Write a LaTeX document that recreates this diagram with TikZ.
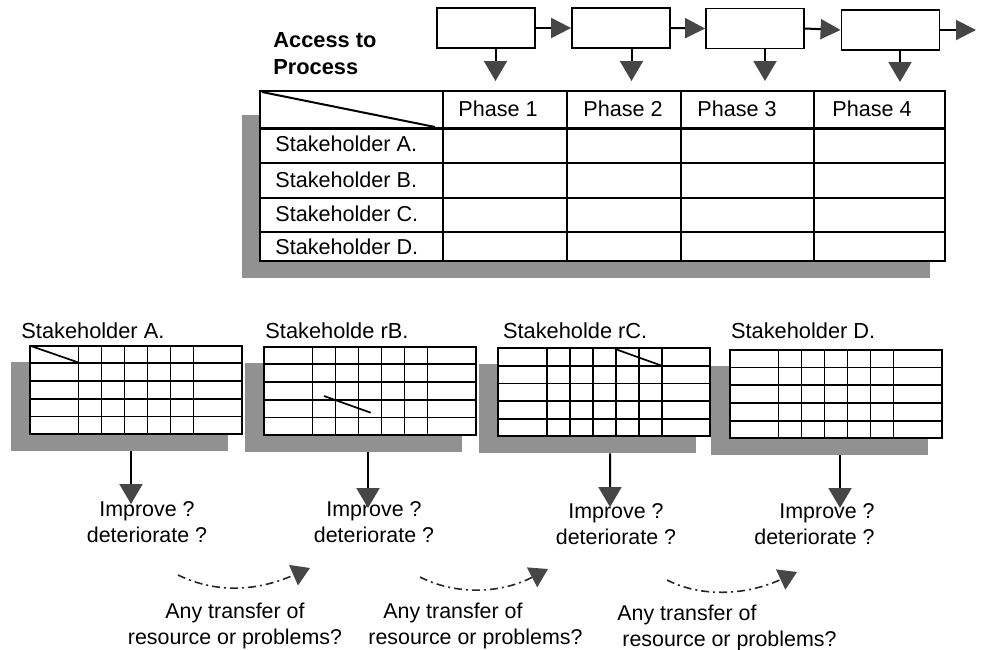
\documentclass[tikz,border=0pt]{standalone}
\usepackage{fontspec}
\setmainfont{Liberation Sans}
\usetikzlibrary{arrows.meta}

\definecolor{tipgray}{RGB}{70,70,70}
\definecolor{shadowgray}{RGB}{145,145,145}

\tikzset{
  procbox/.style={draw, line width=0.9pt, minimum width=49pt, minimum height=20pt, inner sep=0pt},
  flow/.style={line width=1pt, -{Triangle[length=10pt,width=10pt,color=tipgray]}},
  drop/.style={line width=1pt, -{Triangle[length=10pt,width=11.5pt,color=tipgray]}},
  transfer/.style={line width=0.8pt, draw=black!85, dash pattern=on 4pt off 2pt on 1pt off 2pt,
    -{Triangle[length=9pt,width=11pt,color=tipgray]}},
  grid/.style={line width=1pt},
  thin grid/.style={line width=0.85pt},
  txt/.style={inner sep=0pt, font=\fontsize{10.8}{13}\selectfont},
  title/.style={inner sep=0pt, font=\fontsize{10.9}{13}\selectfont},
  question/.style={inner sep=0pt, font=\fontsize{10.7}{13}\selectfont},
  transfertxt/.style={inner sep=0pt, font=\fontsize{10.7}{13.4}\selectfont},
}

% one stakeholder sheet: name, left x, top y, x of the outgoing stem
\newcommand{\minitable}[4]{%
  \begin{scope}[shift={(#2,#3)}]
    \fill[shadowgray] (-19,16) rectangle (198,105);
    \filldraw[fill=white, thin grid] (0,0) rectangle (212,88);
    \foreach \c in {48.5,71.5,94.5,117.5,140.5,163.5}
      \draw[thin grid] (\c,0) -- (\c,88);
    \foreach \r in {17.5,35.2,53,70.8}
      \draw[thin grid] (0,\r) -- (212,\r);
    \coordinate (#1-out) at (#4,105);
  \end{scope}}

\begin{document}
\begin{tikzpicture}[x=0.5pt, y=-0.5pt]
\useasboundingbox (0,0) rectangle (981,649);

% ---- process chain ----
\node[txt, font=\fontsize{10.9}{13.35}\selectfont\bfseries, align=left, anchor=west] (access) at (273,53.4) {Access to\\Process};

\node[procbox] (b1) at (485.7,28) {};
\node[procbox] (b2) at (621,28) {};
\node[procbox] (b3) at (755,28.5) {};
\node[procbox] (b4) at (890.5,30) {};
\coordinate (bend) at (976,30);

\draw[flow] (b1.east) -- (b2.west);
\draw[flow] (b2.east) -- (b3.west);
\draw[flow] (b3.east) -- (b4.west);
\draw[flow] (b4.east) -- (bend);

\coordinate (d1) at (495.5,81);
\coordinate (d2) at (631.5,81);
\coordinate (d3) at (765,81);
\coordinate (d4) at (900,82);
\draw[drop] (b1.south -| d1) -- (d1);
\draw[drop] (b2.south -| d2) -- (d2);
\draw[drop] (b3.south -| d3) -- (d3);
\draw[drop] (b4.south -| d4) -- (d4);

% ---- overview table ----
\fill[shadowgray] (242,115) rectangle (930,278);
\filldraw[fill=white, grid] (260,91) rectangle (945,261);
\foreach \c in {443,567,681,814}
  \draw[grid] (\c,91) -- (\c,261);
\foreach \r in {163,198,232}
  \draw[grid] (260,\r) -- (945,\r);
\draw[line width=1.5pt] (260,128) -- (945,128);
\draw[grid] (262,92) -- (435,127);

\node[txt, anchor=base west] (ph1) at (458,116) {Phase 1};
\node[txt, anchor=base west] (ph2) at (583,116) {Phase 2};
\node[txt, anchor=base west] (ph3) at (697,116) {Phase 3};
\node[txt, anchor=base west] (ph4) at (832,116) {Phase 4};

\node[txt, anchor=base west] (rA) at (275,151) {Stakeholder A.};
\node[txt, anchor=base west] (rB) at (275,187.5) {Stakeholder B.};
\node[txt, anchor=base west] (rC) at (275,221) {Stakeholder C.};
\node[txt, anchor=base west] (rD) at (275,254.5) {Stakeholder D.};

% ---- stakeholder sheets ----
\node[title, anchor=base west] (sA) at (21,338) {Stakeholder A.};
\node[title, anchor=base west] (sB) at (265,338) {Stakeholde rB.};
\node[title, anchor=base west] (sC) at (502.7,338) {Stakeholde rC.};
\node[title, anchor=base west] (sD) at (730.7,338) {Stakeholder D.};

\minitable{tA}{30}{345.7}{101}
\minitable{tB}{264}{346.7}{104}
\minitable{tC}{498.3}{348.3}{111.7}
\minitable{tD}{730}{350}{110}

\draw[thin grid] (30,345.7) -- (79,362.7);
\draw[thin grid] (324,396) -- (370.7,412.7);
\draw[thin grid] (616,349.3) -- (661.7,365.7);

% ---- outcomes ----
\node[question, align=center] (qA) at (147,522) {Improve ?\\deteriorate ?};
\node[question, align=center] (qB) at (374,522.5) {Improve ?\\deteriorate ?};
\node[question, align=center] (qC) at (616,524) {Improve ?\\deteriorate ?};
\node[question, align=right, anchor=east] (qD) at (875,524) {Improve ?\\deteriorate ?};

\coordinate (tA-in) at (131,504);
\coordinate (tB-in) at (368,508);
\coordinate (tC-in) at (610,507);
\coordinate (tD-in) at (840,508);
\draw[drop] (tA-out) -- (tA-in);
\draw[drop] (tB-out) -- (tB-in);
\draw[drop] (tC-out) -- (tC-in);
\draw[drop] (tD-out) -- (tD-in);

% ---- transfers between stakeholders ----
\coordinate (x1s) at (178,575);  \coordinate (x1e) at (310,568);
\coordinate (x2s) at (420,577);  \coordinate (x2e) at (548,569);
\coordinate (x3s) at (667,580);  \coordinate (x3e) at (797,572);
\draw[transfer] (x1s) .. controls (215,593) and (255,592) .. (x1e);
\draw[transfer] (x2s) .. controls (455,595) and (500,594) .. (x2e);
\draw[transfer] (x3s) .. controls (700,597) and (745,596) .. (x3e);

\node[transfertxt, align=center] (m1) at (235,626) {Any transfer of\\resource or problems?};
\node[transfertxt, align=left, anchor=west] (m2) at (368,626) {\hspace*{7.5pt}Any transfer of\\resource or problems?};
\node[transfertxt, align=left, anchor=west] (m3) at (617,628) {Any transfer of\\\hspace*{2.5pt}resource or problems?};
\end{tikzpicture}
\end{document}
